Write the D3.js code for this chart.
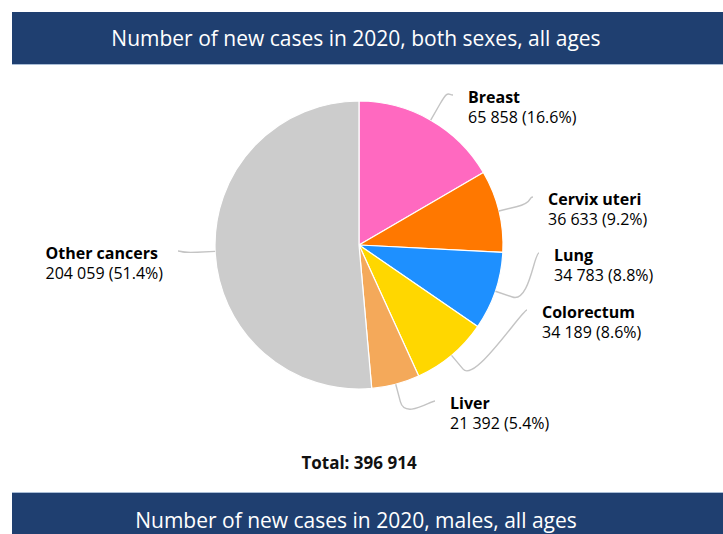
<!DOCTYPE html>
<html>
<head>
<meta charset="utf-8">
<script src="https://cdn.jsdelivr.net/npm/d3@7"></script>
<style>
  html, body { margin: 0; padding: 0; background: #ffffff; }
  svg { display: block; font-family: "Open Sans", "Noto Sans", sans-serif; }
</style>
</head>
<body>
<svg id="chart" width="723" height="534"></svg>
<script>
// ---- data ----
const categories = ["Breast", "Cervix uteri", "Lung", "Colorectum", "Liver", "Other cancers"];
const values = [65858, 36633, 34783, 34189, 21392, 204059];
const percents = ["16.6%", "9.2%", "8.8%", "8.6%", "5.4%", "51.4%"];
const colors = ["#ff69c0", "#ff7800", "#1e90ff", "#ffd700", "#f4a95a", "#cccccc"];
const titleText = "Number of new cases in 2020, both sexes, all ages";
const nextTitleText = "Number of new cases in 2020, males, all ages";
const totalValue = 396914;

// ---- layout ----
const W = 723, H = 534;
const cx = 359, cy = 245, R = 144;
const breakR = R + 18;
// label anchor offsets relative to pie centre (layout, not data)
const labelAnchor = [[94, -150], [174, -48], [180, 8], [168, 65], [76, 156], [-181, 6]];
const textGap = 15;

const fmt = n => d3.format(",")(n).replace(/,/g, " ");

const svg = d3.select("#chart");

// header band
svg.append("rect").attr("x", 12).attr("y", 12).attr("width", W - 12).attr("height", 52).attr("fill", "#1f3f70");
svg.append("line").attr("x1", 12).attr("x2", W).attr("y1", 64.5).attr("y2", 64.5).attr("stroke", "#a9bdd6").attr("stroke-width", 1);
svg.append("text").attr("x", 356).attr("y", 45.5).attr("text-anchor", "middle")
  .attr("fill", "#ffffff").attr("font-size", 21).text(titleText);

// bottom band
svg.append("rect").attr("x", 12).attr("y", 493).attr("width", W - 12).attr("height", H - 493).attr("fill", "#1f3f70");
svg.append("line").attr("x1", 12).attr("x2", W).attr("y1", 492.5).attr("y2", 492.5).attr("stroke", "#a9bdd6").attr("stroke-width", 1);
svg.append("text").attr("x", 356).attr("y", 528).attr("text-anchor", "middle")
  .attr("fill", "#ffffff").attr("font-size", 21).text(nextTitleText);

// pie
const data = categories.map((c, i) => ({ name: c, value: values[i], pct: percents[i], color: colors[i], idx: i }));
const pie = d3.pie().value(d => d.value).sort(null);
const arcs = pie(data);
const arc = d3.arc().innerRadius(0).outerRadius(R);

const g = svg.append("g").attr("transform", `translate(${cx},${cy})`);
g.selectAll("path.slice").data(arcs).join("path")
  .attr("class", "slice")
  .attr("d", arc)
  .attr("fill", d => d.data.color)
  .attr("stroke", "#ffffff").attr("stroke-width", 1.2).attr("stroke-linejoin", "round");

// connectors + labels
const polar = (a, r) => [r * Math.sin(a), -r * Math.cos(a)];
arcs.forEach((d, i) => {
  const mid = (d.startAngle + d.endAngle) / 2;
  const t = polar(mid, R);
  const b = polar(mid, breakR);
  const [ax, ay] = labelAnchor[i];
  const left = ax < 0;
  const p = d3.path();
  p.moveTo(ax, ay);
  p.bezierCurveTo(ax + (left ? 5 : -5), ay, 2 * b[0] - t[0], 2 * b[1] - t[1], b[0], b[1]);
  p.lineTo(t[0], t[1]);
  g.append("path").attr("d", p.toString()).attr("fill", "none")
    .attr("stroke", "#c4c4c4").attr("stroke-width", 1.4);

  const lg = g.append("g");
  const name = lg.append("text").attr("y", ay + 8).attr("font-size", 16).attr("font-weight", "bold")
    .attr("fill", "#000000").text(d.data.name);
  const val = lg.append("text").attr("y", ay + 27.5).attr("font-size", 16)
    .attr("fill", "#000000").text(`${fmt(d.data.value)} (${d.data.pct})`);
  if (left) {
    const w = Math.max(name.node().getComputedTextLength(), val.node().getComputedTextLength());
    const x0 = ax - textGap - w;
    name.attr("x", x0); val.attr("x", x0);
  } else {
    name.attr("x", ax + textGap); val.attr("x", ax + textGap);
  }
});

// total
svg.append("text").attr("x", 359).attr("y", 469).attr("text-anchor", "middle")
  .attr("font-size", 17).attr("font-weight", "bold").attr("fill", "#111111")
  .text("Total: " + fmt(totalValue));
</script>
</body>
</html>
